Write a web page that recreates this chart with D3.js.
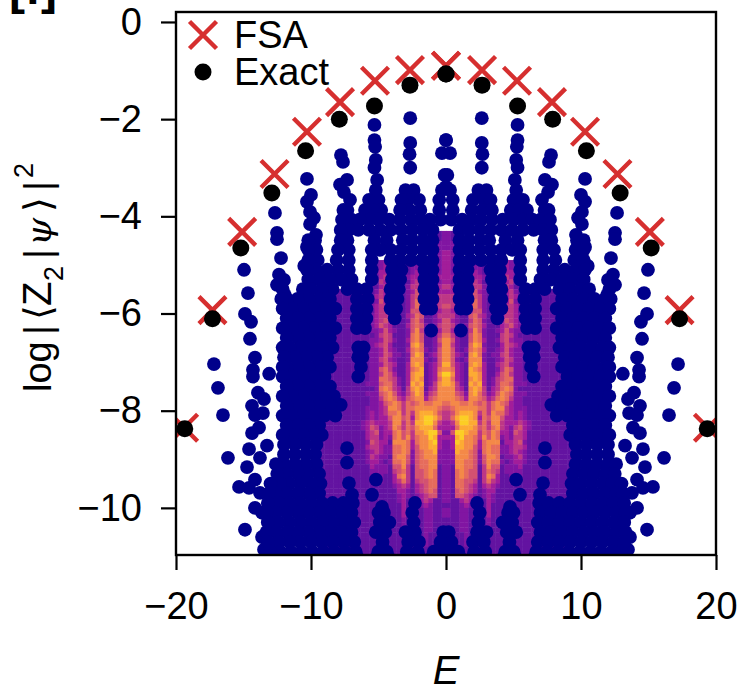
<!DOCTYPE html>
<html>
<head>
<meta charset="utf-8">
<script src="https://cdn.jsdelivr.net/npm/d3@7"></script>
<style>
  html, body { margin: 0; padding: 0; background: #fff; }
  svg { display: block; }
  text { font-family: "Liberation Sans", Arial, sans-serif; fill: #000; }
</style>
</head>
<body>
<svg width="741" height="687"></svg>
<script>
const xTicks = [-20, -10, 0, 10, 20];
const yTicks = [0, -2, -4, -6, -8, -10];

// the spectrum is mirror symmetric, so only E >= 0 is listed
const fsaE = [0, 2.67, 5.26, 7.85, 10.3, 12.7, 15.1, 17.3, 19.4];
const fsaLog = [-0.9, -0.99, -1.21, -1.65, -2.26, -3.13, -4.32, -5.93, -8.35];
const exactE = [0, 2.67, 5.3, 7.9, 10.4, 12.9, 15.2, 17.3, 19.35];
const exactLog = [-1.07, -1.3, -1.73, -2.0, -2.65, -3.52, -4.65, -6.11, -8.37];

// loose dots outside the dense part
const blueLoose = [
  [2.65, -1.98], [2.65, -2.49], [2.7, -2.72], [2.65, -3.0],
  [0, -2.43], [0.3, -2.7], [0.1, -3.15], [0, -3.4],
  [5.3, -2.12], [5.3, -2.43], [5.25, -2.57], [5.2, -2.84], [5.3, -3.0], [5.1, -3.25],
  [7.78, -2.74], [7.63, -2.88], [7.33, -3.25], [7.85, -3.35], [7.56, -3.5], [7.11, -3.66], [7.48, -3.93], [7.48, -4.12],
  [10.3, -3.23], [10.0, -3.56], [10.3, -3.7], [10.07, -3.91], [9.78, -4.03], [10.07, -4.16], [9.63, -4.38], [9.7, -4.65], [10.3, -4.63], [10.5, -5.02],
  [12.67, -3.93], [12.52, -4.34], [12.52, -4.47], [12.22, -4.86], [12.37, -5.2], [12.0, -5.31], [12.52, -5.41], [11.93, -5.62],
  [14.96, -5.1], [14.67, -5.58], [14.89, -6.01], [14.44, -6.17], [14.52, -6.52], [14.15, -6.91], [14.3, -7.16], [14.3, -7.3],
  [13.1, -7.24], [13.93, -7.63], [13.48, -7.76], [14.37, -7.9], [13.56, -8.05], [14.15, -8.09], [13.85, -8.35], [14.37, -8.46],
  [14.59, -8.79], [13.78, -8.97], [14.74, -9.16], [13.26, -8.72], [15.33, -9.57], [14.59, -9.59], [14.15, -9.42], [13.78, -9.69],
  [14.15, -10.0], [13.63, -10.1], [14.89, -10.45], [13.63, -10.6], [13.48, -10.86],
  [17.19, -7.04], [16.89, -7.53], [16.52, -8.09], [16.15, -8.97],
  [7.33, -8.77], [7.33, -9.07], [5.19, -9.42], [7.19, -9.49], [6.96, -9.73], [5.48, -9.73], [4.74, -9.98],
  [1.1, -6.35], [6.5, -7.3], [7.8, -7.88]
];

// dense part, one row per log value
const blueLevels = [-3.46, -3.66, -3.87, -4.07, -4.28, -4.49, -4.69, -4.9, -5.1, -5.3, -5.5, -5.7, -5.9, -6.1, -6.3, -6.5, -6.7, -6.9, -7.1, -7.3, -7.5, -7.7, -7.9, -8.1, -8.3, -8.5, -8.7, -8.9, -9.1, -9.3, -9.5, -9.7, -9.9, -10.1, -10.3, -10.5, -10.7, -10.9, -11];
const blueRows = [
  [0.3, 2.4, 3.0, 5.2],
  [0.5, 2.0, 2.8, 3.3, 5.0, 5.7],
  [0.5, 1.9, 2.7, 3.4, 4.8, 5.4, 6.0, 7.3, 7.6],
  [0.4, 1.2, 1.9, 2.6, 3.4, 4.2, 5.0, 5.7, 6.4, 7.0, 7.7],
  [1.0, 1.7, 2.5, 3.3, 4.1, 4.9, 5.7, 6.5, 7.2, 7.8],
  [1.0, 1.7, 2.5, 3.2, 4.4, 5.3, 7.3, 7.8, 9.7, 10.2],
  [1.0, 1.7, 2.5, 3.3, 4.1, 4.9, 5.5, 7.2, 8.0, 9.6, 10.2],
  [1.0, 1.8, 2.6, 3.4, 4.1, 5.5, 7.2, 8.1, 9.5, 10.2],
  [1.0, 1.6, 3.3, 4.0, 5.5, 7.2, 8.0, 8.8, 9.6, 10.3],
  [1.0, 1.6, 3.4, 4.0, 5.5, 7.0, 7.8, 8.6, 9.4, 10.2],
  [1.0, 1.6, 3.5, 4.1, 5.9, 6.6, 7.3, 8.4, 9.2, 10.0, 10.6, 12.1],
  [1.0, 1.6, 3.6, 4.1, 5.8, 6.6, 8.6, 9.4, 10.2, 11.0, 11.8, 12.2],
  [1.1, 1.5, 3.7, 4.1, 5.9, 6.6, 8.2, 9.0, 9.8, 10.6, 11.4, 12.1],
  [3.8, 5.9, 6.6, 8.6, 9.4, 10.2, 11.0, 11.8],
  [6.0, 6.6, 8.2, 9.0, 9.8, 10.6, 11.4, 12.1],
  [8.6, 9.4, 10.2, 11.0, 11.8],
  [6.1, 6.5, 8.4, 9.2, 10.0, 10.8, 11.6, 12.1],
  [6.2, 6.5, 8.8, 9.6, 10.4, 11.2, 12.0],
  [6.3, 8.6, 9.4, 10.2, 11.0, 11.8, 12.1],
  [9.0, 9.8, 10.6, 11.4, 12.1],
  [8.6, 9.4, 10.2, 11.0, 11.8],
  [8.3, 9.0, 9.8, 10.6, 11.4, 12.1],
  [8.6, 9.4, 10.2, 11.0, 11.8],
  [8.2, 9.0, 9.8, 10.6, 11.4, 12.1],
  [9.4, 10.2, 11.0, 11.8],
  [9.2, 9.8, 10.6, 11.4, 12.1],
  [9.6, 10.4, 11.2, 12.0],
  [9.7, 10.4, 11.2, 12.0],
  [9.6, 10.4, 11.2, 12.0, 12.6],
  [9.4, 10.2, 11.0, 11.8, 12.5],
  [9.3, 10.0, 10.8, 11.6, 12.3, 13.0],
  [9.4, 10.2, 11.0, 11.8, 12.6, 13.1],
  [2.3, 6.9, 7.6, 8.4, 9.2, 10.0, 10.8, 11.6, 12.4, 13.2],
  [2.5, 4.6, 5.0, 7.0, 7.8, 8.6, 9.4, 10.2, 11.0, 11.8, 12.6, 13.3],
  [2.4, 4.2, 4.9, 6.8, 7.6, 8.4, 9.2, 10.0, 10.8, 11.6, 12.4, 13.2],
  [0.2, 2.3, 3.0, 4.5, 5.2, 7.0, 7.8, 8.6, 9.4, 10.2, 11.0, 11.8, 12.6, 13.3],
  [0.4, 2.0, 2.8, 4.7, 6.8, 7.6, 8.4, 9.2, 10.0, 10.8, 11.6, 12.4, 13.2],
  [0.3, 0.9, 2.1, 2.9, 4.4, 5.0, 6.7, 7.5, 8.3, 9.1, 9.9, 10.7, 11.5, 12.3, 13.0],
  [0.2, 1.0, 2.0, 2.9, 4.3, 5.1, 6.6, 7.4, 8.2, 9.0, 9.8, 10.6, 11.4, 12.2, 13.0]
];

// density behind the dots: each row is one log bin from -4.3 down, each digit one |E| bin
const densityTop = -4.3;
const densityRows = [
  "21", "21", "22", "22", "321", "321",
  "32111111111113211",
  "3211112211111321",
  "32111232111113321",
  "33211333211114311",
  "32111343111113411",
  "43111344211124311",
  "3321135321111342111111111111",
  "4421135421112343111111111111",
  "4421146421113352111111111111",
  "5421146421112443211111111111",
  "4321145521113443121111111111",
  "4421156431112443221111111111",
  "5321146521123543211111111111",
  "5421256531113453211111111111",
  "5311147521123532211111111111",
  "6421157621114542111111111111",
  "7521157631124532211111111111",
  "7421168721113543211111111111",
  "7521267631123532211111111111",
  "7532178621224532211111111111",
  "7521277721123542211111111111",
  "8532178731134532211111111111",
  "7632187631124652211111111111",
  "9732188731135642211111111111",
  "8632178731245662211111111111",
  "8742187831246652221111111111",
  "7743178741346762111111111111",
  "7754278642357652221111111111",
  "7765377653467642211111111111",
  "6776676564676532211111111111",
  "5677777664677432221111111111",
  "4578887464766432321111111111",
  "4689987365775332321111111111",
  "3479988464774333432111111111",
  "3368887564674324532111111111",
  "2599877465763325431111111111",
  "3389776475762324431111111111",
  "2398776367771334521111111111",
  "2388775367662234431111111111",
  "2287765267662234321111111111",
  "2277765257761223421111111111",
  "2277665257662123321111111111",
  "2177665147551222311111111111",
  "2167655146541222211111111111",
  "2167655147631122211111111111",
  "2166554146431121211111111111",
  "2166543134321111111111111111",
  "2156543123311111111111111111",
  "2155432123211111111111111111",
  "2113432113211111111111111111",
  "1112321113111111111111111111",
  "2112211113111111111111111111",
  "2112211113111111111111111111",
  "1112211112111111111111111111",
  "1112211112111111111111111111",
  "1112211112111111111111111111",
  "1111211112111111111111111111",
  "1111211111111111111111111111",
  "1111211111111111111111111111",
  "1111111111111111111111111111",
  "1111111111111111111111111111"
];
const densityDE = 1 / 3;
const densityDLog = 0.1;

const svg = d3.select("svg");
const margin = { left: 176, right: 716, top: 12, bottom: 555 };

const x = d3.scaleLinear().domain([-20, 20]).range([margin.left, margin.right]);
const y = d3.scaleLinear().domain([0.205, -10.97]).range([margin.top, margin.bottom]);
const heat = d3.scaleLinear().domain([1, 9]).range([0.17, 0.9]);
// the lowest bins look greyer than the plain colormap in the picture
const heatColor = (level) => d3.interpolateRgb(d3.interpolatePlasma(heat(level)), "#808080")(level < 3 ? 0.14 : 0);

const both = (list) => [...list, ...list.map(([e, v]) => [-e, v])];

svg.append("clipPath").attr("id", "plot")
  .append("rect")
  .attr("x", margin.left).attr("y", margin.top)
  .attr("width", margin.right - margin.left)
  .attr("height", margin.bottom - margin.top);

const g = svg.append("g").attr("clip-path", "url(#plot)");

// density cells
const cells = [];
densityRows.forEach((row, r) => {
  row.split("").forEach((c, i) => {
    if (c === "0") return;
    cells.push({ e: i * densityDE, v: densityTop - r * densityDLog, level: +c, side: 1 });
    cells.push({ e: i * densityDE, v: densityTop - r * densityDLog, level: +c, side: -1 });
  });
});
g.selectAll("rect.cell").data(cells).join("rect")
  .attr("class", "cell")
  .attr("x", (d) => d.side > 0 ? x(d.e) : x(-d.e - densityDE))
  .attr("y", (d) => y(d.v))
  .attr("width", x(densityDE) - x(0) + 0.4)
  .attr("height", y(-densityDLog) - y(0) + 0.4)
  .attr("fill", (d) => heatColor(d.level));

// scatter
const blue = both([...blueLoose, ...blueRows.flatMap((row, i) => row.map((e) => [e, blueLevels[i]]))]);
g.selectAll("circle.state").data(blue).join("circle")
  .attr("class", "state")
  .attr("cx", (d) => x(d[0]))
  .attr("cy", (d) => y(d[1]))
  .attr("r", 6.9)
  .attr("fill", "#00008b");

const cross = d3.symbol().type(d3.symbolTimes).size(478);
g.selectAll("path.fsa").data(both(fsaE.map((e, i) => [e, fsaLog[i]]))).join("path")
  .attr("class", "fsa")
  .attr("d", cross)
  .attr("transform", (d) => `translate(${x(d[0])},${y(d[1])})`)
  .attr("fill", "none")
  .attr("stroke", "#d62f2f")
  .attr("stroke-width", 4.4);

g.selectAll("circle.exact").data(both(exactE.map((e, i) => [e, exactLog[i]]))).join("circle")
  .attr("class", "exact")
  .attr("cx", (d) => x(d[0]))
  .attr("cy", (d) => y(d[1]))
  .attr("r", 8.5)
  .attr("fill", "#000");

// frame and axes
svg.append("rect")
  .attr("x", margin.left).attr("y", margin.top)
  .attr("width", margin.right - margin.left)
  .attr("height", margin.bottom - margin.top)
  .attr("fill", "none").attr("stroke", "#000").attr("stroke-width", 2.4);

const xAxis = svg.append("g")
  .attr("transform", `translate(0,${margin.bottom})`)
  .call(d3.axisBottom(x).tickValues(xTicks).tickSize(15).tickPadding(22));
const yAxis = svg.append("g")
  .attr("transform", `translate(${margin.left},0)`)
  .call(d3.axisLeft(y).tickValues(yTicks).tickSize(15).tickPadding(19));
[xAxis, yAxis].forEach((a) => {
  a.select(".domain").remove();
  a.selectAll("line").attr("stroke", "#000").attr("stroke-width", 2.2);
  a.selectAll("text").attr("font-size", 38).attr("font-family", null);
});

// legend
svg.append("path").attr("d", cross)
  .attr("transform", "translate(203,35)")
  .attr("fill", "none").attr("stroke", "#d62f2f").attr("stroke-width", 4.4);
svg.append("circle").attr("cx", 203).attr("cy", 72).attr("r", 8.5).attr("fill", "#000");
svg.append("text").attr("x", 234).attr("y", 48).attr("font-size", 38).text("FSA");
svg.append("text").attr("x", 234).attr("y", 85).attr("font-size", 38).text("Exact");

// axis titles
svg.append("text").attr("x", 446).attr("y", 684).attr("text-anchor", "middle")
  .attr("font-size", 40).attr("font-style", "italic").text("E");

const yTitle = svg.append("text")
  .attr("transform", "translate(51,392) rotate(-90)")
  .attr("font-size", 38);
const titleBit = (t, at, up, size, font, style) => yTitle.append("tspan")
  .attr("x", at).attr("y", up)
  .attr("font-size", size).attr("font-family", font).attr("font-style", style)
  .text(t);
titleBit("log", 0, 0, 38);
titleBit("|", 57, 0, 38);
titleBit("⟨", 72, 0, 38, "DejaVu Sans");
titleBit("Z", 86, 0, 40);
titleBit("2", 111, 12, 27);
titleBit("|", 133, 0, 38);
titleBit("ψ", 146, 0, 36, "DejaVu Serif", "italic");
titleBit("⟩", 180, 0, 38, "DejaVu Sans");
titleBit("|", 201, 0, 38);
titleBit("2", 214, -18, 27);

// panel label, cut by the top of the page
svg.append("text").attr("x", 9).attr("y", 4).attr("font-size", 48).attr("font-weight", "bold").text("[f]");
</script>
</body>
</html>
